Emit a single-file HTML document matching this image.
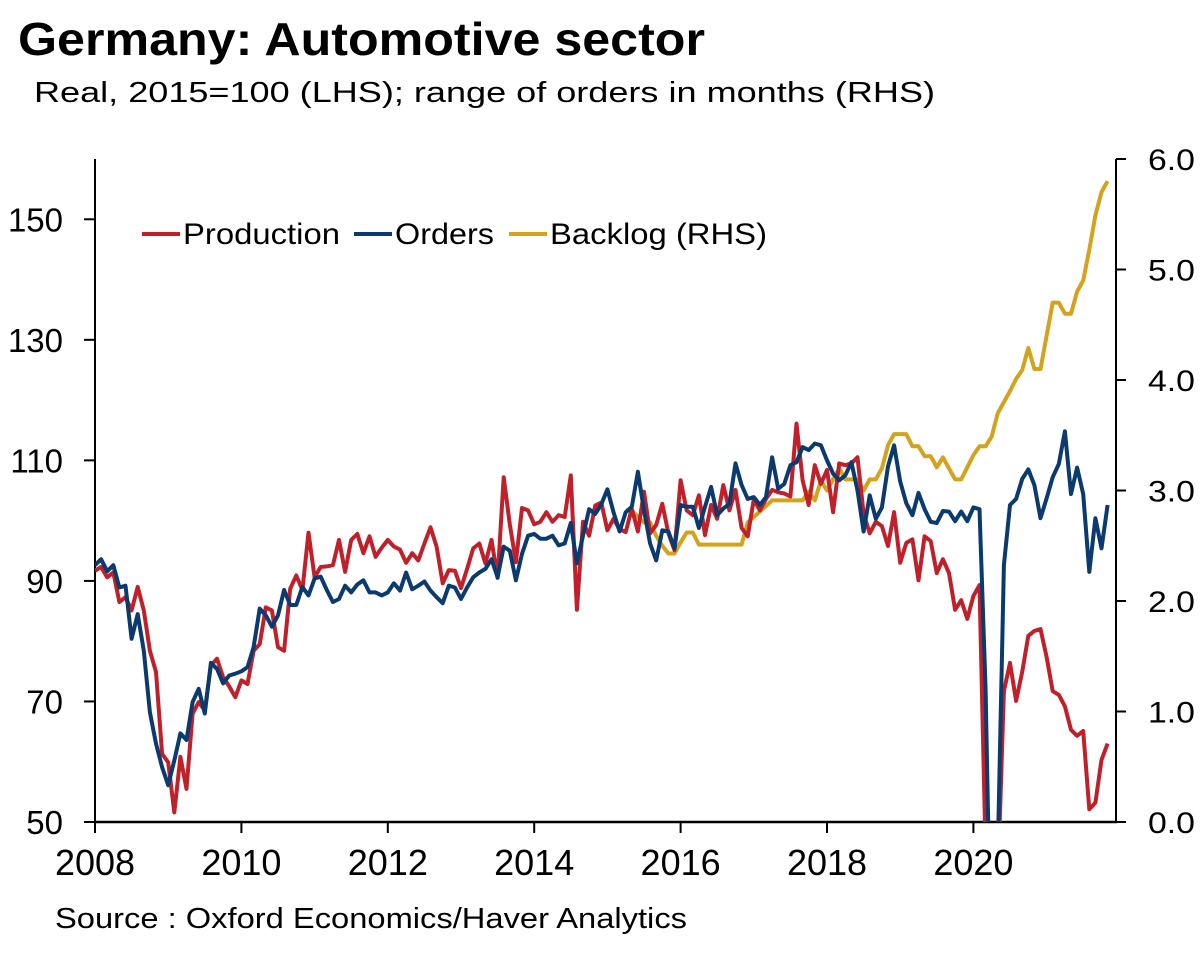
<!DOCTYPE html>
<html><head><meta charset="utf-8">
<style>
html,body{margin:0;padding:0;background:#fff;}
body{width:1200px;height:959px;overflow:hidden;font-family:"Liberation Sans",Arial,sans-serif;}
svg text{font-family:"Liberation Sans",Arial,sans-serif;fill:#000;}
</style></head>
<body>
<svg id="chart" width="1200" height="959" viewBox="0 0 1200 959" xmlns="http://www.w3.org/2000/svg">
  <text x="18" y="55" font-size="46" font-weight="bold" textLength="687" lengthAdjust="spacingAndGlyphs">Germany: Automotive sector</text>
  <text x="34" y="102" font-size="29" textLength="901" lengthAdjust="spacingAndGlyphs">Real, 2015=100 (LHS); range of orders in months (RHS)</text>
  <defs><clipPath id="plotclip"><rect x="95" y="159" width="1020" height="663"/></clipPath></defs>
  <g id="axes"></g>
  <g id="series" clip-path="url(#plotclip)"></g>
  <g>
    <line x1="142" y1="234" x2="180" y2="234" stroke="#c0202a" stroke-width="4"/>
    <text x="183" y="244" font-size="30" textLength="157" lengthAdjust="spacingAndGlyphs">Production</text>
    <line x1="354" y1="234" x2="392" y2="234" stroke="#0b3a6e" stroke-width="4"/>
    <text x="395" y="244" font-size="30" textLength="99" lengthAdjust="spacingAndGlyphs">Orders</text>
    <line x1="509" y1="234" x2="547" y2="234" stroke="#d4a21c" stroke-width="4"/>
    <text x="550" y="244" font-size="30" textLength="217" lengthAdjust="spacingAndGlyphs">Backlog (RHS)</text>
  </g>
  <text x="55" y="928" font-size="29" textLength="632" lengthAdjust="spacingAndGlyphs">Source : Oxford Economics/Haver Analytics</text>
</svg>
<script>
const production = [
91.7,92.3,90.6,91.4,86.5,87.3,85.1,89,85.1,78.4,74.9,61.3,
59.9,51.6,60.8,55.5,68,69.9,68.5,76,77.1,74,72.5,70.7,
73.5,72.9,78.4,79.5,85.6,85.1,79,78.4,88.7,90.9,88.5,98,
90.6,92.3,92.4,92.6,96.8,91.5,96.8,97.8,94.6,97.4,94,95.5,
96.8,95.7,95.2,93,94.6,93.4,96.2,98.9,95.7,89.6,91.8,91.7,
88.8,92,95.4,96.2,92.9,96.8,90.5,107.2,99.4,93.1,102.1,101.7,
99.4,99.8,101.4,99.8,100.9,100.6,107.5,85.2,99.8,97.5,102.5,103,
98.4,100.3,98.6,98.1,102,98.2,104.8,97.9,99.3,102.8,97.9,95.1,
106.7,101.7,100.9,104.2,97.6,102.6,100.3,105.9,101.7,105.1,98.8,97.4,
103.5,101.7,103.6,105.1,104.7,104.5,104,116.1,106.7,102.6,109.2,106.1,
108.4,101.4,109.5,109.2,109.5,110.5,101.2,97.9,99.8,99.1,95.8,101.4,
93,96.3,96.9,90.1,97.4,96.6,91.3,93.6,91.3,85.2,86.8,83.7,
87.5,89.3,45,25,40,71.7,76.4,70.1,74.9,80.9,81.7,82,
77.4,71.7,71.1,69.2,65.3,64.3,65.1,52.1,53.2,60.3,63];
const orders = [
92.6,93.6,91.6,92.6,88.9,89.2,80.4,84.5,78.4,68.2,63,59.1,
56.1,60.2,64.7,63.6,69.9,72.1,68,76.4,75.4,73,74.3,74.6,
75,75.7,79,85.4,84.3,82.4,84.3,88.5,86,86,89,87.6,
90.4,90.7,88.5,86.5,87,89.2,88.1,89.4,90.1,88.1,88.1,87.6,
88.1,89.6,88.4,91.4,88.6,89.2,89.9,88.4,87.3,86.3,89.2,88.9,
87,88.9,90.6,91.4,92,93.6,90.6,95.7,95,90.1,94.5,97.5,
97.8,97,97,97.5,95.9,96.2,99.6,92.9,97.5,101.9,101.1,102.7,
105.2,101.4,98.2,101.4,102.3,108.1,101.7,96.2,93.4,98.4,98.2,95.4,
102.6,102.3,102.3,98.8,102.3,105.6,100.9,102,102.8,109.5,105.9,103.6,
103.9,102.6,103.9,110.5,105.3,106.1,109.2,109.7,112.2,111.7,112.8,112.5,
110,107.8,106.7,107.5,109.7,105,98.2,104.2,100.3,102.2,109,112.5,
106.5,102.9,100.9,104.6,101.9,99.8,99.6,101.6,101.5,99.9,101.5,99.9,
102.2,101.9,72,20,45,92.6,102.6,103.6,106.9,108.5,105.9,100.4,
103.7,107.2,109.4,114.8,104.4,108.8,104.4,91.5,100.4,95.4,102.6];
const backlogStart = 87;
const backlog = [
2.82,2.82,2.76,2.71,2.71,2.59,2.5,2.43,2.43,
2.53,2.62,2.62,2.51,2.51,2.51,2.51,2.51,2.51,2.51,2.51,2.71,
2.76,2.81,2.86,2.91,2.91,2.91,2.91,2.91,2.91,2.99,2.91,3.09,
3.0,3.1,3.2,3.1,3.1,3.1,3.0,3.1,3.1,3.2,3.41,3.51,
3.51,3.51,3.4,3.4,3.31,3.31,3.21,3.3,3.2,3.1,3.1,3.21,
3.32,3.4,3.4,3.49,3.7,3.8,3.9,4.01,4.09,4.29,4.1,4.1,
4.4,4.7,4.7,4.6,4.6,4.8,4.9,5.18,5.49,5.7,5.8];
const leftTicks = [50,70,90,110,130,150];
const rightTicks = ["0.0","1.0","2.0","3.0","4.0","5.0","6.0"];
const yearLabels = ["2008","2010","2012","2014","2016","2018","2020"];

const NS = "http://www.w3.org/2000/svg";
const X0 = 95, X1 = 1116, YT = 159, YB = 822;
const MONTH_PX = 6.1;
function xMonth(m){ return X0 + m * MONTH_PX; }
function yLeft(v){ return YB - (v - 50) / 110 * (YB - YT); }
function yRight(v){ return YB - v / 6 * (YB - YT); }
function mk(tag, attrs, parent){
  const e = document.createElementNS(NS, tag);
  for (const k in attrs) e.setAttribute(k, attrs[k]);
  parent.appendChild(e); return e;
}
const axes = document.getElementById('axes');
const series = document.getElementById('series');

let l = mk('line', {x1:X0,y1:YT,x2:X0,y2:YB,stroke:'#000','stroke-width':2}, axes);


l = mk('line', {x1:X1,y1:YT,x2:X1,y2:YB,stroke:'#000','stroke-width':2}, axes);


l = mk('line', {x1:X0-1,y1:YB,x2:X1+1,y2:YB,stroke:'#000','stroke-width':2.5}, axes);



leftTicks.forEach(v => {
  const y = yLeft(v);
  const t = mk('line', {x1:X0-11,y1:y,x2:X0,y2:y,stroke:'#000','stroke-width':2}, axes);
  
  
  const tx = mk('text', {x:63,y:y+12,'font-size':33,'text-anchor':'end'}, axes);
  tx.textContent = v;
  
  
});
rightTicks.forEach(s => {
  const y = yRight(parseFloat(s));
  const t = mk('line', {x1:X1,y1:y,x2:X1+10,y2:y,stroke:'#000','stroke-width':2}, axes);
  
  
  const tx = mk('text', {x:1148,y:y+11,'font-size':30,textLength:47,lengthAdjust:'spacingAndGlyphs'}, axes);
  tx.textContent = s;
  
  
});
yearLabels.forEach(s => {
  const x = xMonth((parseInt(s) - 2008) * 12);
  const t = mk('line', {x1:x,y1:YB,x2:x,y2:YB+11,stroke:'#000','stroke-width':2}, axes);
  
  
  const tx = mk('text', {x:x,y:875,'font-size':36,'text-anchor':'middle'}, axes);
  tx.textContent = s;
  
  
});

function drawLine(vals, offset, yf, color, name){
  const pts = vals.map((v, i) => xMonth(i + offset).toFixed(1) + ',' + yf(v).toFixed(1)).join(' ');
  const p = mk('polyline', {points:pts,fill:'none',stroke:color,'stroke-width':4,'stroke-linejoin':'round'}, series);
  
  
}
drawLine(backlog, backlogStart, yRight, '#d4a21c', 'backlog-line');
drawLine(production, 0, yLeft, '#c0202a', 'production-line');
drawLine(orders, 0, yLeft, '#0b3a6e', 'orders-line');
</script>
</body></html>
